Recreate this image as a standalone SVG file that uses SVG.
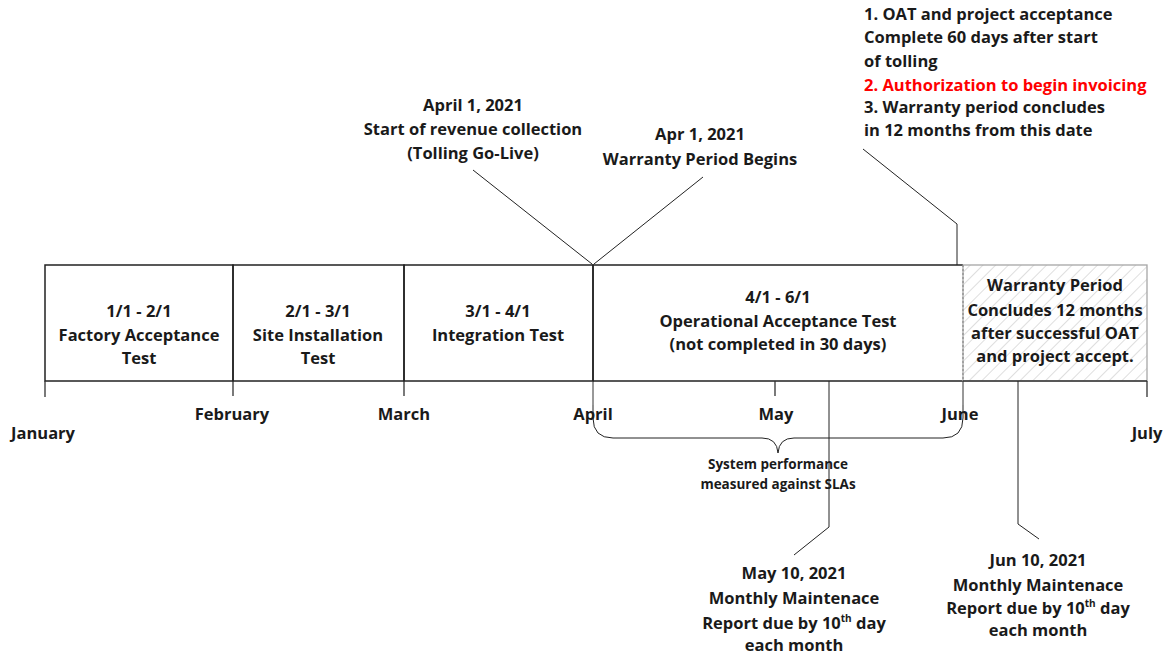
<svg xmlns="http://www.w3.org/2000/svg" width="1168" height="657" viewBox="0 0 1168 657">
<style>
text{font-family:"Open Sans","Noto Sans","Liberation Sans",sans-serif;font-weight:bold;font-size:16.5px;fill:#1a1a1a;text-anchor:middle}
.l{text-anchor:start}
.s{font-size:13.5px}
.red{fill:#ff0000}
.box{fill:none;stroke:#222;stroke-width:1.5}
.tk{stroke:#333;stroke-width:1.3;fill:none}
.cn{stroke:#222;stroke-width:1;fill:none}
</style>
<defs>
<pattern id="hatch" patternUnits="userSpaceOnUse" width="9" height="9" patternTransform="rotate(45)">
<line x1="0" y1="0" x2="0" y2="9" stroke="#bdbdbd" stroke-width="1"/>
</pattern>
</defs>
<rect width="1168" height="657" fill="#fff"/>

<g id="phase-fat">
<rect class="box" x="45" y="265" width="188" height="116"/>
<text x="139" y="317">1/1 - 2/1</text>
<text x="139" y="341">Factory Acceptance</text>
<text x="139" y="364">Test</text>
</g>
<g id="phase-sit">
<rect class="box" x="233" y="265" width="171" height="116"/>
<text x="318" y="317">2/1 - 3/1</text>
<text x="318" y="341">Site Installation</text>
<text x="318" y="364">Test</text>
</g>
<g id="phase-it">
<rect class="box" x="404" y="265" width="189" height="116"/>
<text x="498" y="317">3/1 - 4/1</text>
<text x="498" y="341">Integration Test</text>
</g>
<g id="phase-oat">
<path class="box" d="M593,381 L593,265 L963,265 M593,381 L963,381"/>
<line x1="963" y1="265" x2="963" y2="381" stroke="#333" stroke-width="1" stroke-dasharray="2,2"/>
<text x="778" y="303">4/1 - 6/1</text>
<text x="778" y="327">Operational Acceptance Test</text>
<text x="778" y="350">(not completed in 30 days)</text>
</g>
<g id="phase-warranty">
<rect x="963" y="265" width="184" height="116" fill="url(#hatch)" stroke="#a6a6a6" stroke-width="1.3"/>
<line x1="963" y1="381" x2="1147" y2="381" stroke="#333" stroke-width="1.5"/>
<text x="1055" y="291">Warranty Period</text>
<text x="1055" y="316">Concludes 12 months</text>
<text x="1055" y="339">after successful OAT</text>
<text x="1055" y="362">and project accept.</text>
</g>

<g id="months">
<path class="tk" d="M45,381 L45,397 M233,381 L233,396 M404,381 L404,396 M775,381 L775,396 M1147,381 L1147,397"/>
<line x1="593" y1="381" x2="593" y2="405" stroke="#333" stroke-width="1"/>
<line x1="963" y1="381" x2="963" y2="405" stroke="#333" stroke-width="1"/>
<text x="43" y="439">January</text>
<text x="232" y="420">February</text>
<text x="404" y="420">March</text>
<text x="593" y="420">April</text>
<text x="776" y="420">May</text>
<text x="960" y="420">June</text>
<text x="1147" y="439">July</text>
</g>

<g id="sla-brace">
<path class="cn" d="M593,405 L593,418 Q593,438 613,438 L762,438 Q777,438 778,453 Q779,438 794,438 L943,438 Q963,438 963,418 L963,405"/>
<text class="s" x="778" y="469">System performance</text>
<text class="s" x="778" y="489">measured against SLAs</text>
</g>

<g id="note-golive">
<text x="473" y="111">April 1, 2021</text>
<text x="473" y="135">Start of revenue collection</text>
<text x="473" y="159">(Tolling Go-Live)</text>
</g>
<g id="note-warranty-begins">
<text x="700" y="140">Apr 1, 2021</text>
<text x="700" y="165">Warranty Period Begins</text>
</g>
<g id="note-oat">
<text class="l" x="864" y="20">1. OAT and project acceptance</text>
<text class="l" x="864" y="43">Complete 60 days after start</text>
<text class="l" x="864" y="67">of tolling</text>
<text class="l red" x="864" y="91">2. Authorization to begin invoicing</text>
<text class="l" x="864" y="113">3. Warranty period concludes</text>
<text class="l" x="864" y="136">in 12 months from this date</text>
</g>
<g id="note-may">
<text x="794" y="579">May 10, 2021</text>
<text x="794" y="604">Monthly Maintenace</text>
<text x="794" y="629">Report due by 10<tspan font-size="10" dy="-7">th</tspan><tspan dy="7"> day</tspan></text>
<text x="794" y="651">each month</text>
</g>
<g id="note-jun">
<text x="1038" y="566">Jun 10, 2021</text>
<text x="1038" y="591">Monthly Maintenace</text>
<text x="1038" y="614">Report due by 10<tspan font-size="10" dy="-7">th</tspan><tspan dy="7"> day</tspan></text>
<text x="1038" y="636">each month</text>
</g>

<g id="connectors">
<path class="cn" d="M473,170 L592,264"/>
<path class="cn" d="M703,177 L594,264"/>
<path class="cn" d="M863,149 L957,224 L957,265"/>
<path class="cn" d="M829,381 L829,527 L794,555"/>
<path class="cn" d="M1018,381 L1018,524 L1039,539"/>
</g>
</svg>
